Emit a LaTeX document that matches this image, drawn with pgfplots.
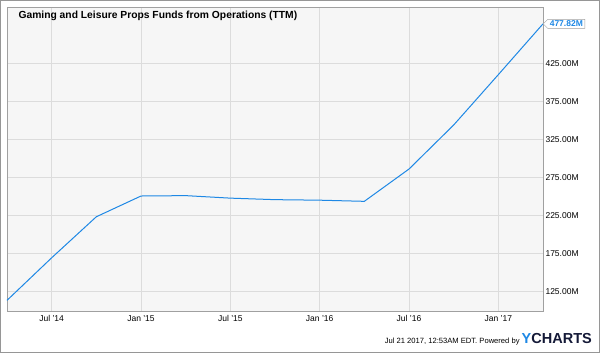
\documentclass[border=0pt]{standalone}
\usepackage{fontspec}
\setmainfont{Liberation Sans}
\usepackage{pgfplots}
\pgfplotsset{compat=1.18}
\usetikzlibrary{shapes.symbols}
\definecolor{linec}{RGB}{30,136,229}
\definecolor{bgc}{RGB}{246,246,246}
\definecolor{gridc}{RGB}{220,220,220}
\definecolor{framec}{RGB}{160,160,160}
\definecolor{outerc}{RGB}{150,150,150}
\definecolor{navyc}{RGB}{20,25,55}
\begin{document}
\begin{tikzpicture}[x=1pt,y=1pt]
\useasboundingbox (0,0) rectangle (600,353);
\draw[color=outerc, line width=1.2pt] (0.6,0.6) rectangle (599.4,352.4);
\begin{axis}[
  at={(7pt,42pt)}, anchor=south west, scale only axis,
  width=536pt, height=304pt,
  xmin=3, xmax=39, ymin=100, ymax=500,
  axis background/.style={fill=bgc},
  grid=major,
  major grid style={draw=gridc, line width=1pt},
  xtick={6,12,18,24,30,36},
  xticklabels={Jul '14, Jan '15, Jul '15, Jan '16, Jul '16, Jan '17},
  ytick={125,175,225,275,325,375,425},
  yticklabels={125.00M,175.00M,225.00M,275.00M,325.00M,375.00M,425.00M},
  yticklabel pos=right,
  major tick length=0pt,
  tick style={draw=none},
  axis line style={draw=framec, line width=0.9pt},
  ticklabel style={font=\fontsize{8.5}{10}\selectfont, text=black},
  yticklabel style={anchor=west, xshift=-1pt},
  xticklabel style={yshift=-1pt},
  clip=false,
]
\addplot[color=linec, line width=1pt] coordinates {
(3,114) (6,170) (9,224) (12,251.3) (15,251.8) (18,248.5) (21,246.5) (24,245.8) (27,244.3) (30,286.8) (33,344.7) (36,411) (39,477.82)
};
\node[signal, signal to=west, draw=framec, fill=white, text=linec, font=\fontsize{8.5}{10}\selectfont\bfseries, inner xsep=2pt, inner ysep=1.5pt, anchor=west] at (axis cs:39,477.82) {477.82M};
\end{axis}
\node[anchor=west, font=\fontsize{10.3}{12}\selectfont\bfseries] at (15,337) {Gaming and Leisure Props Funds from Operations (TTM)};
\node[anchor=base east, inner sep=0pt] at (592,9) {{\fontsize{7.6}{9}\selectfont Jul 21 2017, 12:53AM EDT. Powered by }{\fontsize{14.5}{16}\selectfont\bfseries\color{linec}Y}{\fontsize{14.5}{16}\selectfont\bfseries\color{navyc}CHARTS}};
\end{tikzpicture}
\end{document}
